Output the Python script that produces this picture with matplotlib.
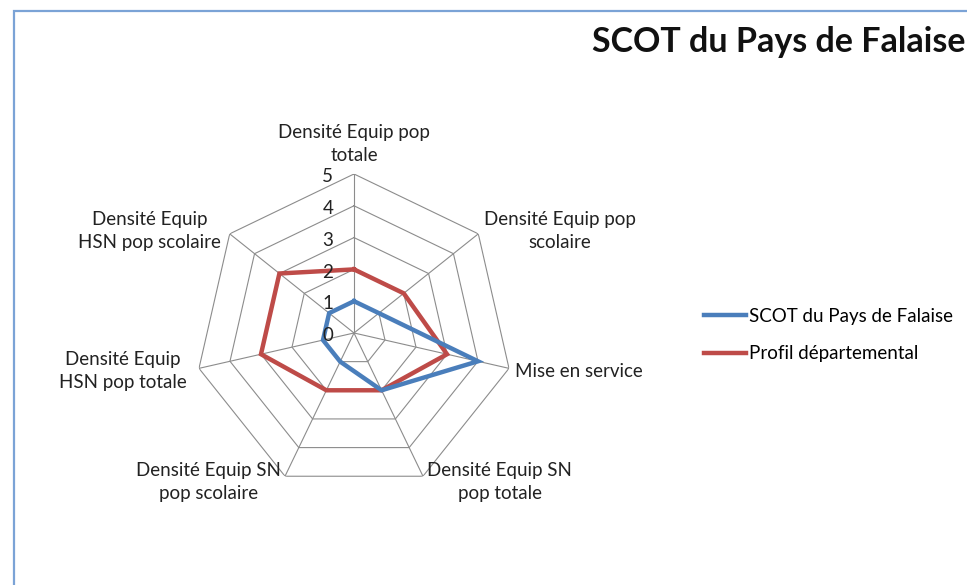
import matplotlib.pyplot as plt
import numpy as np
from matplotlib.patches import Rectangle

# Données
categories = [
    "Densité Equip pop\ntotale",
    "Densité Equip pop\nscolaire",
    "Mise en service",
    "Densité Equip SN\npop totale",
    "Densité Equip SN\npop scolaire",
    "Densité Equip\nHSN pop totale",
    "Densité Equip\nHSN pop scolaire",
]
scot_values = [1, 1, 4, 2, 1, 1, 1]
profil_values = [2, 2, 3, 2, 2, 3, 3]
series_names = ["SCOT du Pays de Falaise", "Profil départemental"]
levels = [1, 2, 3, 4, 5]

plt.rcParams['font.family'] = ['Lato', 'DejaVu Sans']
fs = 13.5

fig = plt.figure(figsize=(9.67, 5.85), dpi=100)

# cadre bleu (bords gauche et haut visibles)
fig.patches.append(Rectangle((14 / 967, -0.05), 1.2, 1 - 11 / 585 + 0.05,
                             transform=fig.transFigure, fill=False,
                             edgecolor='#7ba3d6', linewidth=1.6))

ax = fig.add_axes([0.20165, 0.1590, 0.32885, 0.5436], projection='polar')
ax.set_theta_zero_location('N')
ax.set_theta_direction(-1)
ax.set_ylim(0, 5)
ax.set_axis_off()

n = len(categories)
theta = np.linspace(0, 2 * np.pi, n, endpoint=False)
theta_closed = np.append(theta, theta[0])

# grille polygonale
grid_color = '#8c8c8c'
for lv in levels:
    ax.plot(theta_closed, [lv] * (n + 1), color=grid_color, lw=0.8, zorder=1)
for t in theta:
    ax.plot([t, t], [0, 5], color=grid_color, lw=0.8, zorder=1)

# séries
ax.plot(theta_closed, scot_values + scot_values[:1], color='#4a7ebb', lw=3.2,
        label=series_names[0], zorder=3, solid_joinstyle='miter')
ax.plot(theta_closed, profil_values + profil_values[:1], color='#be4b48', lw=3.2,
        label=series_names[1], zorder=2, solid_joinstyle='miter')

# étiquettes de l'axe radial
for lv in [0] + levels:
    ax.annotate(str(lv), xy=(0, lv), xytext=(-15, -2), textcoords='offset points',
                ha='right', va='center', fontsize=fs, color='#222222')

# étiquettes des catégories (décalages en points)
label_pos = [
    ((0, 7.5), 'center', 'bottom'),
    ((4, 2), 'left', 'center'),
    ((4, -2), 'left', 'center'),
    ((3, -4), 'left', 'center'),
    ((-3, -4), 'right', 'center'),
    ((-9, -2), 'right', 'center'),
    ((-6, 2), 'right', 'center'),
]
for t, lab, (off, ha, va) in zip(theta, categories, label_pos):
    ax.annotate(lab, xy=(t, 5), xytext=off, textcoords='offset points',
                ha=ha, va=va, multialignment='center', fontsize=fs,
                color='#222222', linespacing=1.4)

fig.text(965 / 967, 1 - 42 / 585, "SCOT du Pays de Falaise", ha='right',
         va='center', fontsize=24.5, fontweight='bold', color='#111111')

handles, labels = ax.get_legend_handles_labels()
fig.legend(handles, labels, loc='center left',
           bbox_to_anchor=(687 / 967, 1 - 335 / 585), frameon=False,
           handlelength=2.25, handletextpad=0.18, labelspacing=1.08, fontsize=fs)

fig.savefig('out.png', dpi=100)
plt.close(fig)
